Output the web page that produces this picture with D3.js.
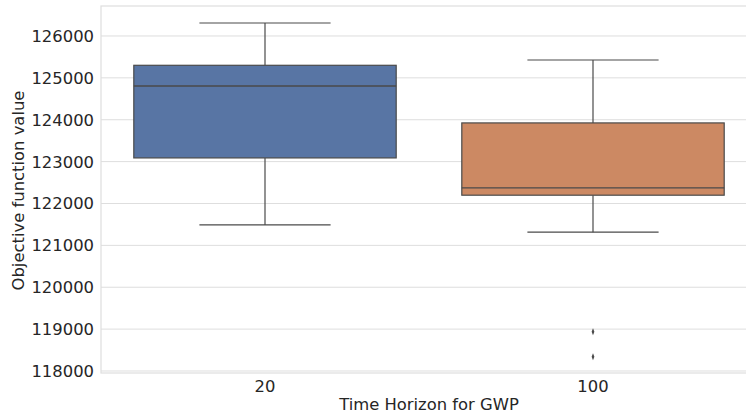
<!DOCTYPE html>
<html><head><meta charset="utf-8">
<script src="https://cdn.jsdelivr.net/npm/d3@7"></script>
<style>body{margin:0;background:#fff}svg{display:block}text{font-family:"DejaVu Sans",sans-serif;fill:#262626}</style>
</head><body><svg id="c" width="746" height="417"></svg>
<script>
const categories = ["20", "100"];
const q1 = [123088, 122198];
const median = [124807, 122372];
const q3 = [125300, 123924];
const whiskerLow = [121489, 121315];
const whiskerHigh = [126310, 125427];
const outliers = [[], [118936, 118339]];
const colors = ["#5875a4", "#cc8963"];
const yTicks = [118000, 119000, 120000, 121000, 122000, 123000, 124000, 125000, 126000];

(function () {
const svg = d3.select("#c");
const fs = 16.4;
const pl = 101, pr = 757, pt = 6, pb = 373;
const x = d3.scaleBand().domain(categories).range([pl, pr]).paddingInner(0).paddingOuter(0);
const y = d3.scaleLinear().domain([117952, 126716]).range([pb, pt]);
const bw = x.bandwidth() * 0.8;

svg.append("g").selectAll("line").data(yTicks).join("line")
  .attr("x1", pl).attr("x2", pr).attr("y1", d => y(d)).attr("y2", d => y(d))
  .attr("stroke", "#dedede").attr("stroke-width", 1);
svg.append("rect").attr("x", pl).attr("y", pt).attr("width", pr - pl).attr("height", pb - pt)
  .attr("fill", "none").attr("stroke", "#dedede").attr("stroke-width", 1.2);

const lc = "#4a4a4a";
const g = svg.append("g");
categories.forEach((c, i) => {
  const cx = x(c) + x.bandwidth() / 2;
  g.append("line").attr("x1", cx).attr("x2", cx).attr("y1", y(q3[i])).attr("y2", y(whiskerHigh[i])).attr("stroke", lc).attr("stroke-width", 1.2);
  g.append("line").attr("x1", cx).attr("x2", cx).attr("y1", y(q1[i])).attr("y2", y(whiskerLow[i])).attr("stroke", lc).attr("stroke-width", 1.2);
  [whiskerHigh[i], whiskerLow[i]].forEach(v => {
    g.append("line").attr("x1", cx - bw / 4).attr("x2", cx + bw / 4).attr("y1", y(v)).attr("y2", y(v)).attr("stroke", lc).attr("stroke-width", 1.2);
  });
  g.append("rect").attr("x", cx - bw / 2).attr("width", bw).attr("y", y(q3[i])).attr("height", y(q1[i]) - y(q3[i]))
    .attr("fill", colors[i]).attr("stroke", lc).attr("stroke-width", 1.2);
  g.append("line").attr("x1", cx - bw / 2).attr("x2", cx + bw / 2).attr("y1", y(median[i])).attr("y2", y(median[i])).attr("stroke", lc).attr("stroke-width", 1.4);
  outliers[i].forEach(v => {
    g.append("path").attr("d", d3.symbol(d3.symbolDiamond, 10)()).attr("transform", `translate(${cx},${y(v)}) scale(0.8,1.2)`).attr("fill", lc);
  });
});

svg.append("g").selectAll("text").data(yTicks).join("text")
  .attr("x", pl - 7).attr("y", d => y(d)).attr("dy", "0.36em").attr("text-anchor", "end")
  .attr("font-size", fs).text(d => d);
svg.append("g").selectAll("text").data(categories).join("text")
  .attr("x", d => x(d) + x.bandwidth() / 2).attr("y", 392).attr("text-anchor", "middle")
  .attr("font-size", fs).text(d => d);
svg.append("text").attr("x", (pl + pr) / 2).attr("y", 409.5).attr("text-anchor", "middle")
  .attr("font-size", fs).text("Time Horizon for GWP");
svg.append("text").attr("transform", `translate(24,190.5) rotate(-90)`).attr("text-anchor", "middle")
  .attr("font-size", fs).text("Objective function value");
})();
</script></body></html>
